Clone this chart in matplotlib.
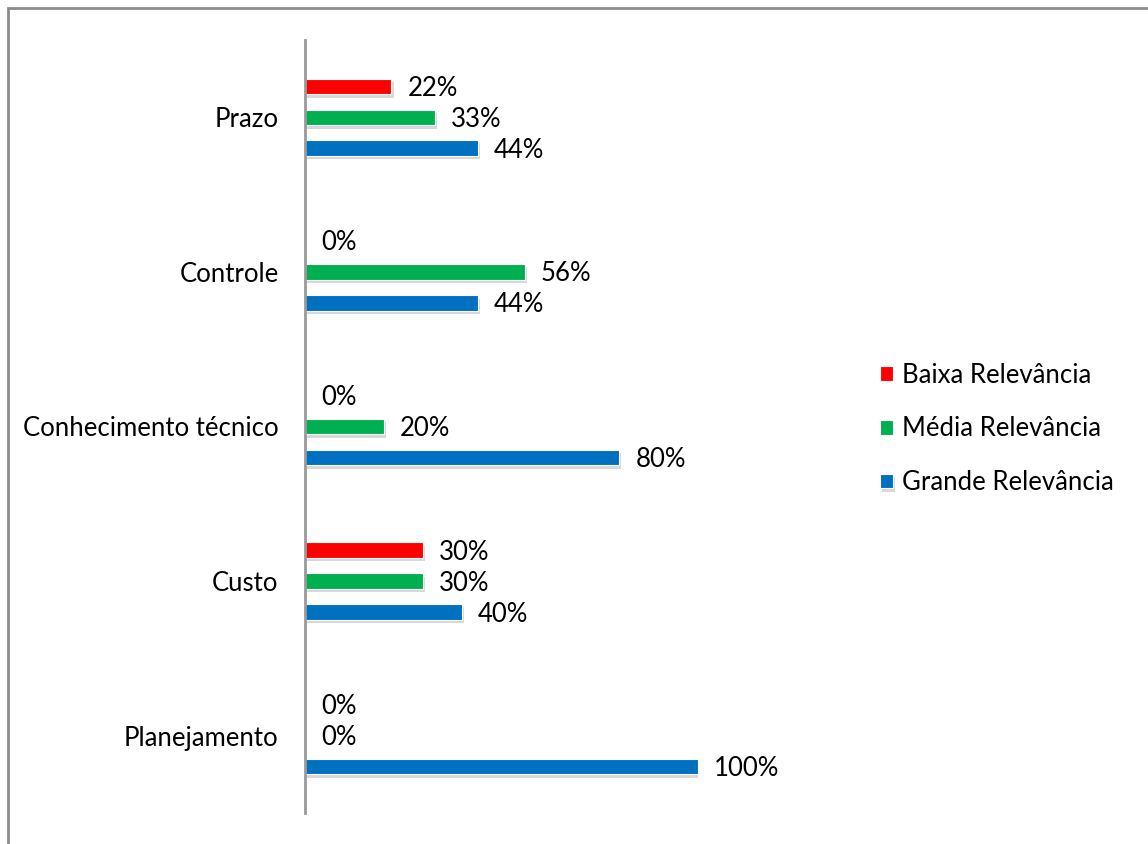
import matplotlib.pyplot as plt
import matplotlib.patheffects as pe
from matplotlib.patches import Rectangle
import numpy as np

plt.rcParams['font.family'] = ['Lato', 'DejaVu Sans']

categorias = ['Planejamento', 'Custo', 'Conhecimento técnico', 'Controle', 'Prazo']
baixa = [0, 30, 0, 0, 22]
media = [0, 30, 20, 56, 33]
grande = [100, 40, 80, 44, 44]

series = [
    ('Baixa Relevância', baixa, '#ff0000', 0.2),
    ('Média Relevância', media, '#00b050', 0.0),
    ('Grande Relevância', grande, '#0070c0', -0.2),
]

fs = 18.5

fig = plt.figure(figsize=(11.48, 8.44), dpi=100)
ax = fig.add_axes([305 / 1148, 31 / 844, 393 / 1148, 773 / 844])

y = np.arange(len(categorias))
sombra = [pe.SimplePatchShadow(offset=(1.5, -2.5), shadow_rgbFace='#808080', alpha=0.3), pe.Normal()]

for nome, vals, cor, off in series:
    barras = ax.barh(y + off, vals, height=0.1, color=cor, edgecolor='white',
                     linewidth=0.8, label=nome)
    for b, v in zip(barras, vals):
        if v > 0:
            b.set_path_effects(sombra)
        ax.annotate(f'{v}%', (v, b.get_y() + b.get_height() / 2),
                    xytext=(16, -2), textcoords='offset pixels', ha='left', va='center',
                    fontsize=fs, annotation_clip=False)

ax.set_xlim(0, 100)
ax.set_ylim(-0.5, len(categorias) - 0.5)
ax.set_yticks(y)
ax.set_yticklabels(categorias, fontsize=fs)
ax.tick_params(axis='y', length=0, pad=19)
ax.set_xticks([])
for s in ['top', 'right', 'bottom']:
    ax.spines[s].set_visible(False)
ax.spines['left'].set_color('#999999')
ax.spines['left'].set_linewidth(2)

h, l = ax.get_legend_handles_labels()
fig.legend(h, l, loc='center left', bbox_to_anchor=(880 / 1148, 1 - 429 / 844),
           frameon=False, fontsize=fs, handlelength=0.5, handleheight=0.5,
           handletextpad=0.35, labelspacing=1.12, borderpad=0, borderaxespad=0)

# moldura do gráfico
fig.add_artist(Rectangle((8 / 1148, -0.1), 1.2, 1.1 - 7.5 / 844, transform=fig.transFigure,
                         fill=False, edgecolor='#8c8c8c', linewidth=2))

fig.savefig('out.png', dpi=100)
